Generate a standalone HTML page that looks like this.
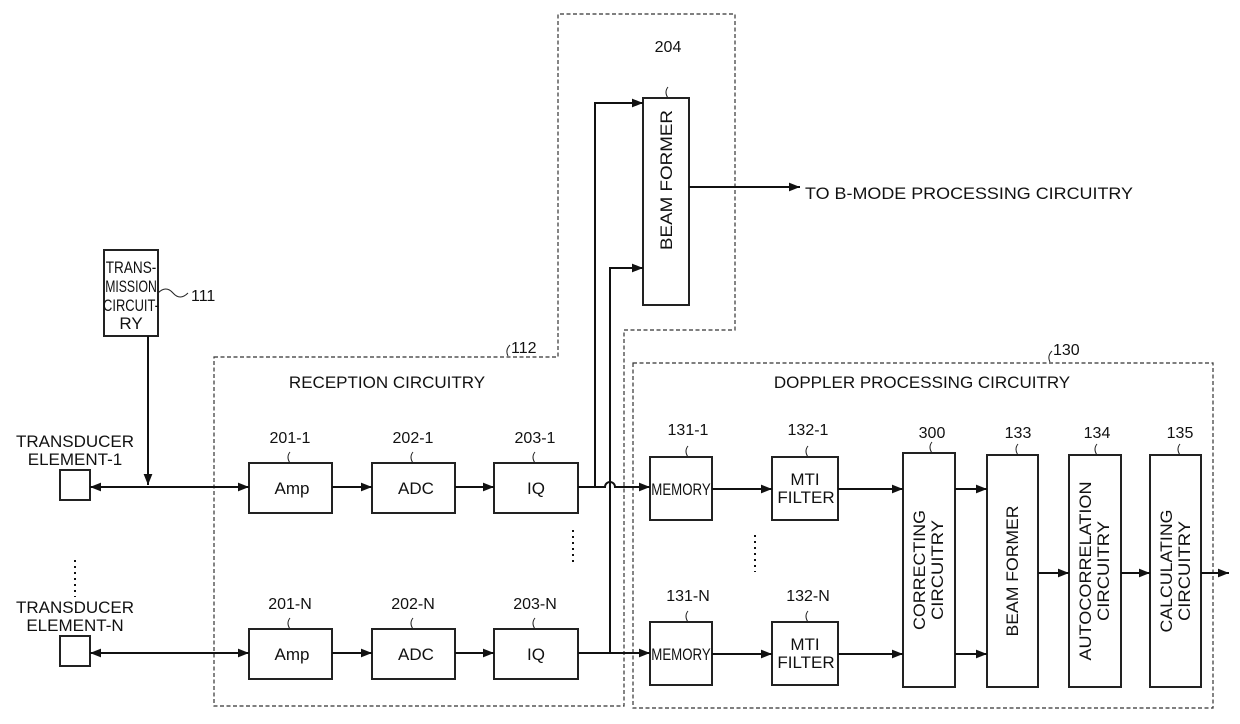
<!DOCTYPE html>
<html><head><meta charset="utf-8"><style>
html,body{margin:0;padding:0;background:#fff}
svg{display:block}
text{font-family:"Liberation Sans",sans-serif;font-size:17px;fill:#111}
.n{font-size:16px}
</style></head><body>
<svg width="1240" height="724" viewBox="0 0 1240 724">
<defs>
<marker id="a" viewBox="0 0 10 10" refX="10" refY="5" markerWidth="11" markerHeight="11" markerUnits="userSpaceOnUse" orient="auto-start-reverse"><path d="M0,1 L10,5 L0,9 z" fill="#111"/></marker>
</defs>
<g fill="none" stroke="#333" stroke-width="1.2" stroke-dasharray="4,2.5">
<path d="M214,357 H558 V14 H735 V330 H624 V706 H214 Z"/>
<rect x="633" y="363" width="580" height="345"/>
</g>
<g fill="#fff" stroke="#222" stroke-width="2">
<rect x="104" y="250" width="54" height="86"/>
<rect x="643" y="98" width="46" height="207"/>
<rect x="60" y="470" width="30" height="30"/>
<rect x="60" y="636" width="30" height="30"/>
<rect x="249" y="463" width="83" height="50"/>
<rect x="372" y="463" width="83" height="50"/>
<rect x="494" y="463" width="84" height="50"/>
<rect x="249" y="629" width="83" height="50"/>
<rect x="372" y="629" width="83" height="50"/>
<rect x="494" y="629" width="84" height="50"/>
<rect x="650" y="457" width="62" height="63"/>
<rect x="772" y="457" width="66" height="63"/>
<rect x="650" y="622" width="62" height="63"/>
<rect x="772" y="622" width="66" height="63"/>
<rect x="903" y="453" width="52" height="234"/>
<rect x="987" y="455" width="51" height="232"/>
<rect x="1069" y="455" width="52" height="232"/>
<rect x="1150" y="455" width="51" height="232"/>
</g>
<g fill="none" stroke="#111" stroke-width="2">
<path d="M148,336 V485" marker-end="url(#a)"/>
<path d="M90,487 H249" marker-start="url(#a)" marker-end="url(#a)"/>
<path d="M90,653 H249" marker-start="url(#a)" marker-end="url(#a)"/>
<path d="M332,487 H372" marker-end="url(#a)"/>
<path d="M455,487 H494" marker-end="url(#a)"/>
<path d="M332,653 H372" marker-end="url(#a)"/>
<path d="M455,653 H494" marker-end="url(#a)"/>
<path d="M578,487 H595 V103 H643" marker-end="url(#a)"/>
<path d="M595,487 H605 A5,5 0 0 1 615,487 H650" marker-end="url(#a)"/>
<path d="M578,653 H650" marker-end="url(#a)"/>
<path d="M610,653 V268 H643" marker-end="url(#a)"/>
<path d="M689,187 H800" marker-end="url(#a)"/>
<path d="M712,489 H772" marker-end="url(#a)"/>
<path d="M712,654 H772" marker-end="url(#a)"/>
<path d="M838,489 H903" marker-end="url(#a)"/>
<path d="M838,654 H903" marker-end="url(#a)"/>
<path d="M955,489 H987" marker-end="url(#a)"/>
<path d="M955,654 H987" marker-end="url(#a)"/>
<path d="M1038,573 H1069" marker-end="url(#a)"/>
<path d="M1121,573 H1150" marker-end="url(#a)"/>
<path d="M1201,573 H1229" marker-end="url(#a)"/>
</g>
<g stroke="#111" stroke-width="2" stroke-dasharray="2,4">
<path d="M75,560 V597"/><path d="M573,530 V566"/><path d="M755,535 V572"/>
</g>
<g fill="none" stroke="#222" stroke-width="1">
<path d="M290,452 q-4,5 0,11"/><path d="M413,452 q-4,5 0,11"/><path d="M535,452 q-4,5 0,11"/>
<path d="M290,618 q-4,5 0,11"/><path d="M413,618 q-4,5 0,11"/><path d="M535,618 q-4,5 0,11"/>
<path d="M688,446 q-4,5 0,11"/><path d="M808,446 q-4,5 0,11"/><path d="M932,442 q-4,5 0,11"/>
<path d="M1018,444 q-4,5 0,11"/><path d="M1097,444 q-4,5 0,11"/><path d="M1180,444 q-4,5 0,11"/>
<path d="M688,611 q-4,5 0,11"/><path d="M808,611 q-4,5 0,11"/>
<path d="M668,87 q-4,5 0,11"/>
<path d="M158,293 q8,-8 15,0 t15,0"/>
<path d="M508,356 q-3,-6 2,-11"/><path d="M1050,362 q-3,-6 2,-11"/>
</g>
<g text-anchor="middle">
<text transform="translate(131,273) scale(0.8,1)" font-size="16">TRANS-</text>
<text transform="translate(131,292) scale(0.72,1)" font-size="16">MISSION</text>
<text transform="translate(131,311) scale(0.76,1)" font-size="16">CIRCUIT-</text>
<text x="131" y="329" font-size="16">RY</text>
<text x="75" y="447">TRANSDUCER</text><text x="75" y="465">ELEMENT-1</text>
<text x="75" y="613">TRANSDUCER</text><text x="75" y="631">ELEMENT-N</text>
<text x="387" y="388">RECEPTION CIRCUITRY</text>
<text x="922" y="388">DOPPLER PROCESSING CIRCUITRY</text>
<text class="n" x="290" y="443">201-1</text><text class="n" x="413" y="443">202-1</text><text class="n" x="535" y="443">203-1</text>
<text class="n" x="290" y="609">201-N</text><text class="n" x="413" y="609">202-N</text><text class="n" x="535" y="609">203-N</text>
<text class="n" x="688" y="435">131-1</text><text class="n" x="808" y="435">132-1</text><text class="n" x="932" y="438">300</text>
<text class="n" x="1018" y="438">133</text><text class="n" x="1097" y="438">134</text><text class="n" x="1180" y="438">135</text>
<text class="n" x="688" y="601">131-N</text><text class="n" x="808" y="601">132-N</text>
<text class="n" x="668" y="52">204</text>
<text x="292" y="494">Amp</text><text x="416" y="494">ADC</text><text x="536" y="494">IQ</text>
<text x="292" y="660">Amp</text><text x="416" y="660">ADC</text><text x="536" y="660">IQ</text>
<text transform="translate(681,495) scale(0.78,1)">MEMORY</text>
<text transform="translate(681,660) scale(0.78,1)">MEMORY</text>
<text x="805" y="485">MTI</text><text x="806" y="503">FILTER</text>
<text x="805" y="650">MTI</text><text x="806" y="668">FILTER</text>
<text transform="translate(672,180) rotate(-90)" textLength="140" lengthAdjust="spacingAndGlyphs">BEAM FORMER</text>
<text transform="translate(925,570) rotate(-90)" textLength="120" lengthAdjust="spacingAndGlyphs">CORRECTING</text>
<text transform="translate(943,570) rotate(-90)" textLength="100" lengthAdjust="spacingAndGlyphs">CIRCUITRY</text>
<text transform="translate(1018,571) rotate(-90)" textLength="131" lengthAdjust="spacingAndGlyphs">BEAM FORMER</text>
<text transform="translate(1091,571) rotate(-90)" textLength="179" lengthAdjust="spacingAndGlyphs">AUTOCORRELATION</text>
<text transform="translate(1109,571) rotate(-90)" textLength="100" lengthAdjust="spacingAndGlyphs">CIRCUITRY</text>
<text transform="translate(1172,571) rotate(-90)" textLength="123" lengthAdjust="spacingAndGlyphs">CALCULATING</text>
<text transform="translate(1190,571) rotate(-90)" textLength="100" lengthAdjust="spacingAndGlyphs">CIRCUITRY</text>
</g>
<text class="n" x="191" y="301">111</text>
<text class="n" x="511" y="353">112</text>
<text class="n" x="1053" y="355">130</text>
<text x="805" y="199" textLength="328" lengthAdjust="spacingAndGlyphs">TO B-MODE PROCESSING CIRCUITRY</text>
</svg>
</body></html>
